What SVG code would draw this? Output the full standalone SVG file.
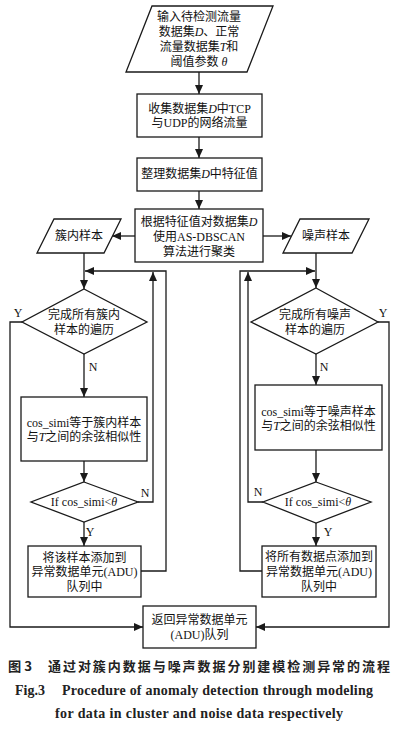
<svg xmlns="http://www.w3.org/2000/svg" width="418" height="731" viewBox="0 0 418 731">
<defs>
<marker id="ah" markerWidth="9" markerHeight="8" refX="9" refY="4" orient="auto" markerUnits="userSpaceOnUse">
<path d="M0,0 L9,4 L0,8 Z" fill="#1a1a1a"/>
</marker>
<style>
.s{fill:#fff;stroke:#1a1a1a;stroke-width:1.3}
.c{fill:none;stroke:#1a1a1a;stroke-width:1.3}
.t{font-family:"Liberation Serif","Noto Sans CJK SC",serif;font-size:12px;fill:#111;text-anchor:middle;dominant-baseline:central}
.l{font-family:"Liberation Serif",serif;font-size:12px;fill:#111;text-anchor:middle;dominant-baseline:central}
.i{font-style:italic}
.cap{font-family:"Noto Sans CJK SC",sans-serif;font-size:13px;font-weight:bold;fill:#222}
.en{font-family:"Liberation Serif",serif;font-size:14px;font-weight:bold;fill:#222}
</style>
</defs>
<rect width="418" height="731" fill="#fff"/>
<g id="connectors">
<path class="c" d="M199,72 V94" marker-end="url(#ah)"/>
<path class="c" d="M199,137 V158" marker-end="url(#ah)"/>
<path class="c" d="M199,191 V209" marker-end="url(#ah)"/>
<path class="c" d="M135,236 H112" marker-end="url(#ah)"/>
<path class="c" d="M263,236 H291" marker-end="url(#ah)"/>
<path class="c" d="M84,253 V289" marker-end="url(#ah)"/>
<path class="c" d="M316,253 V288" marker-end="url(#ah)"/>
<path class="c" d="M84,354 V397" marker-end="url(#ah)"/>
<path class="c" d="M84,461 V482" marker-end="url(#ah)"/>
<path class="c" d="M84,522 V546" marker-end="url(#ah)"/>
<path class="c" d="M138,502 H153 V272" marker-end="url(#ah)"/>
<path class="c" d="M141,571 H166 V271 H85" marker-end="url(#ah)"/>
<path class="c" d="M22,322 H10 V627 H143" marker-end="url(#ah)"/>
<path class="c" d="M316,354 V385" marker-end="url(#ah)"/>
<path class="c" d="M316,450 V482" marker-end="url(#ah)"/>
<path class="c" d="M316,523 V546" marker-end="url(#ah)"/>
<path class="c" d="M263,502 H248 V272" marker-end="url(#ah)"/>
<path class="c" d="M262,571 H240 V271 H315" marker-end="url(#ah)"/>
<path class="c" d="M378,322 H389 V627 H256" marker-end="url(#ah)"/>
<text class="l" x="18" y="313">Y</text>
<text class="l" x="93" y="367">N</text>
<text class="l" x="145" y="493">N</text>
<text class="l" x="90" y="532">Y</text>
<text class="l" x="383" y="313">Y</text>
<text class="l" x="324" y="367">N</text>
<text class="l" x="258" y="492">N</text>
<text class="l" x="328" y="532">Y</text>
</g>
<g id="input">
<polygon class="s" points="152,6 273,6 247,72 126,72"/>
<text class="t" x="199" y="17">输入待检测流量</text>
<text class="t" x="199" y="32">数据集<tspan class="i">D</tspan>、正常</text>
<text class="t" x="199" y="47">流量数据集<tspan class="i">T</tspan>和</text>
<text class="t" x="199" y="62">阈值参数 <tspan class="i">θ</tspan></text>
</g>
<g id="collect">
<rect class="s" x="137" y="94" width="125" height="43"/>
<text class="t" x="199.5" y="109">收集数据集<tspan class="i">D</tspan>中TCP</text>
<text class="t" x="199.5" y="123">与UDP的网络流量</text>
</g>
<g id="features">
<rect class="s" x="137" y="158" width="125" height="33"/>
<text class="t" x="199.5" y="174">整理数据集<tspan class="i">D</tspan>中特征值</text>
</g>
<g id="cluster">
<rect class="s" x="135" y="209" width="128" height="53"/>
<text class="t" x="199" y="222">根据特征值对数据集<tspan class="i">D</tspan></text>
<text class="t" x="199" y="237">使用AS-DBSCAN</text>
<text class="t" x="199" y="252">算法进行聚类</text>
</g>
<g id="inner-samples">
<polygon class="s" points="54,219 121,219 104,253 37,253"/>
<text class="t" x="79" y="236">簇内样本</text>
</g>
<g id="noise-samples">
<polygon class="s" points="300,219 369,219 352,253 283,253"/>
<text class="t" x="326" y="236">噪声样本</text>
</g>
<g id="inner-done">
<polygon class="s" points="84,289 147,322 84,354 22,322"/>
<text class="t" x="84" y="315">完成所有簇内</text>
<text class="t" x="84" y="330">样本的遍历</text>
</g>
<g id="inner-cos">
<rect class="s" x="21" y="397" width="126" height="64"/>
<text class="t" x="84" y="423">cos_simi等于簇内样本</text>
<text class="t" x="84" y="437">与<tspan class="i">T</tspan>之间的余弦相似性</text>
</g>
<g id="inner-if">
<polygon class="s" points="84,482 138,502 84,522 31,502"/>
<text class="t" x="84" y="502">If cos_simi&lt;<tspan class="i">θ</tspan></text>
</g>
<g id="inner-add">
<rect class="s" x="28" y="546" width="113" height="51"/>
<text class="t" x="84.5" y="558">将该样本添加到</text>
<text class="t" x="84.5" y="572">异常数据单元(ADU)</text>
<text class="t" x="84.5" y="587">队列中</text>
</g>
<g id="noise-done">
<polygon class="s" points="316,288 378,322 316,354 251,322"/>
<text class="t" x="315" y="315">完成所有噪声</text>
<text class="t" x="315" y="330">样本的遍历</text>
</g>
<g id="noise-cos">
<rect class="s" x="255" y="385" width="127" height="65"/>
<text class="t" x="318.5" y="412">cos_simi等于噪声样本</text>
<text class="t" x="318.5" y="426">与<tspan class="i">T</tspan>之间的余弦相似性</text>
</g>
<g id="noise-if">
<polygon class="s" points="316,482 371,502 316,523 263,502"/>
<text class="t" x="318" y="502">If cos_simi&lt;<tspan class="i">θ</tspan></text>
</g>
<g id="noise-add">
<rect class="s" x="262" y="546" width="114" height="51"/>
<text class="t" x="319" y="557">将所有数据点添加到</text>
<text class="t" x="319" y="572">异常数据单元(ADU)</text>
<text class="t" x="319" y="587">队列中</text>
</g>
<g id="return">
<rect class="s" x="143" y="606" width="113" height="42"/>
<text class="t" x="199.5" y="620">返回异常数据单元</text>
<text class="t" x="199.5" y="635">(ADU)队列</text>
</g>
<g id="caption">
<text class="cap" x="8" y="671" textLength="24" lengthAdjust="spacingAndGlyphs">图 3</text>
<text class="cap" x="48" y="671" textLength="342" lengthAdjust="spacing">通过对簇内数据与噪声数据分别建模检测异常的流程</text>
<text class="en" x="15" y="695">Fig.3</text>
<text class="en" x="62" y="695" textLength="311" lengthAdjust="spacing">Procedure of anomaly detection through modeling</text>
<text class="en" x="55" y="718" textLength="288" lengthAdjust="spacing">for data in cluster and noise data respectively</text>
</g>
</svg>
